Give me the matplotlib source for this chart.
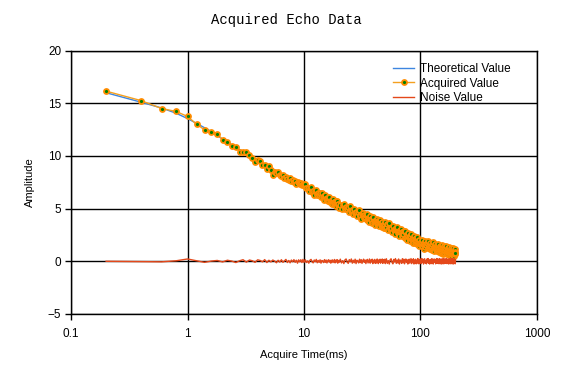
import numpy as np
import matplotlib
matplotlib.use("Agg")
from matplotlib import pyplot as plt
from matplotlib.ticker import NullLocator

# --- echo train time grid (ms) ---
t_early = np.round(np.arange(0.2, 10.01, 0.2), 2)
t_late = np.concatenate([np.arange(10.25, 20.01, 0.25), np.arange(20.5, 50.01, 0.5),
                         np.arange(51, 100.01, 1.0), np.arange(101.25, 200.01, 1.25)])
acq_time = np.concatenate([t_early, t_late])

# --- acquired amplitudes ---
acq_early = [16.15, 15.25, 14.5, 14.22, 13.75, 13.0, 12.48, 12.32, 12.06, 11.56,
             11.34, 10.98, 10.85, 10.35, 10.35, 10.42, 10.08, 9.78, 9.46, 9.66,
             9.5, 9.15, 9.16, 8.78, 9.0, 8.67, 8.22, 8.5, 8.35, 8.45,
             8.2, 8.05, 8.2, 7.95, 8.0, 7.85, 7.7, 7.9, 7.6, 7.7,
             7.5, 7.6, 7.35, 7.55, 7.4, 7.3, 7.45, 7.2, 7.35, 7.25]
acq_10_20 = [7.30, 6.95, 7.00, 6.65, 6.98, 7.07, 6.59, 6.68, 6.34, 6.67,
             6.77, 6.29, 6.49, 6.33, 6.50, 6.07, 6.51, 6.08, 6.18, 5.85,
             6.26, 5.94, 6.01, 5.68, 6.03, 6.13, 5.67, 5.77, 5.45, 5.80,
             5.91, 5.44, 5.66, 5.51, 5.70, 5.27, 5.73, 5.32, 5.42, 5.10]
acq_20_50 = [5.31, 4.92, 5.35, 5.47, 4.92, 5.17, 5.00, 5.20, 4.69, 5.24,
             4.73, 4.85, 4.47, 4.98, 4.59, 4.67, 4.29, 4.71, 4.84, 4.28,
             4.42, 4.05, 4.49, 4.63, 4.09, 4.36, 4.20, 4.42, 3.92, 4.49,
             3.99, 4.13, 3.76, 4.29, 3.91, 4.01, 3.64, 4.08, 4.22, 3.68,
             3.83, 3.46, 3.91, 4.05, 3.52, 3.79, 3.64, 3.86, 3.37, 3.94,
             3.45, 3.59, 3.23, 3.76, 3.39, 3.49, 3.13, 3.57, 3.72, 3.18]
acq_50_100 = [3.27, 3.53, 2.95, 3.61, 3.03, 3.19, 2.76, 3.37, 2.94, 3.05,
              2.62, 3.13, 3.30, 2.66, 2.83, 2.39, 2.91, 3.07, 2.44, 2.75,
              2.57, 2.83, 2.25, 2.91, 2.33, 2.49, 2.06, 2.67, 2.24, 2.35,
              1.92, 2.44, 2.61, 1.98, 2.15, 1.72, 2.24, 2.41, 1.78, 2.10,
              1.92, 2.19, 1.60, 2.27, 1.69, 1.86, 1.43, 2.04, 1.61, 1.73]
acq_100_200 = [1.87, 2.05, 1.44, 1.63, 1.21, 1.75, 1.94, 1.32, 1.66, 1.50,
               1.78, 1.22, 1.91, 1.35, 1.53, 1.12, 1.76, 1.34, 1.48, 1.07,
               1.60, 1.79, 1.18, 1.36, 0.95, 1.49, 1.67, 1.06, 1.40, 1.23,
               1.52, 0.96, 1.64, 1.08, 1.27, 0.85, 1.49, 1.08, 1.21, 0.80,
               1.34, 1.53, 0.92, 1.12, 0.71, 1.25, 1.44, 0.83, 1.17, 1.01,
               1.30, 0.75, 1.44, 0.88, 1.07, 0.66, 1.30, 0.89, 1.03, 0.63,
               1.17, 1.36, 0.75, 0.94, 0.53, 1.07, 1.26, 0.66, 1.00, 0.84,
               1.13, 0.57, 1.26, 0.70, 0.89, 0.49, 1.13, 0.72, 0.86, 0.80]
acq_value = np.array(acq_early + acq_10_20 + acq_20_50 + acq_50_100 + acq_100_200)

# --- theoretical curve (anchor points) ---
theo_time = [0.2, 0.4, 0.6, 0.8, 1.0, 1.5, 2, 3, 4, 5, 7, 10, 15, 20, 30, 50, 70, 100, 150, 200]
theo_value = [16.0, 15.1, 14.55, 14.05, 13.55, 12.5, 11.6, 10.4, 9.6, 8.95, 8.05, 7.15,
              6.1, 5.35, 4.45, 3.35, 2.65, 1.68, 1.15, 0.8]

# --- noise ---
noise_early = [0.0, -0.03, -0.05, 0.05, 0.22, 0.05, -0.1, 0.02, 0.08, -0.06,
               0.1, 0.02, -0.12, 0.05, 0.15, -0.08, 0.12, 0.05, -0.1, 0.14,
               0.08, -0.05, 0.16, -0.12, 0.1, -0.06, 0.12, 0.02, -0.14, 0.1,
               -0.08, 0.15, -0.1, 0.05, 0.18, -0.12, 0.08, -0.15, 0.12, -0.05,
               0.16, -0.1, 0.1, -0.18, 0.14, -0.06, 0.15, -0.12, 0.18, -0.1]
noise_10_20 = [0.15, -0.12, 0.04, -0.18, 0.1, 0.18, -0.06, -0.15, 0.12, -0.04,
               0.18, -0.14, 0.08, -0.1, 0.14, -0.18, 0.08, 0.02, -0.12, 0.16,
               -0.1, 0.12, -0.16, 0.05, 0.15, -0.08, 0.1, -0.18, 0.06, 0.14,
               -0.12, 0.02, 0.17, -0.15, 0.1, -0.06, 0.16, -0.18, 0.08, -0.1]
noise_20_50 = [0.2, -0.16, 0.06, -0.22, 0.14, 0.22, -0.08, -0.2, 0.16, -0.04,
               0.22, -0.18, 0.1, -0.14, 0.2, -0.22, 0.1, 0.02, -0.16, 0.2,
               -0.12, 0.16, -0.2, 0.06, 0.2, -0.1, 0.12, -0.22, 0.08, 0.18,
               -0.16, 0.04, 0.22, -0.18, 0.12, -0.06, 0.2, -0.22, 0.1, -0.12,
               0.18, -0.2, 0.06, -0.16, 0.22, 0.04, -0.22, 0.14, -0.08, 0.2,
               -0.18, 0.12, -0.04, 0.22, -0.2, 0.08, 0.16, -0.14, 0.2, -0.22]
noise_50_100 = [0.24, -0.2, 0.06, -0.26, 0.16, 0.24, -0.1, -0.24, 0.18, -0.06,
                0.26, -0.2, 0.12, -0.16, 0.22, -0.26, 0.12, 0.02, -0.2, 0.24,
                -0.14, 0.2, -0.24, 0.08, 0.22, -0.12, 0.14, -0.26, 0.1, 0.2,
                -0.18, 0.04, 0.26, -0.22, 0.14, -0.06, 0.24, -0.26, 0.12, -0.14,
                0.2, -0.24, 0.08, -0.18, 0.26, 0.04, -0.24, 0.16, -0.1, 0.22]
noise_100_200 = [-0.22, 0.26, -0.08, 0.2, -0.26, 0.14, 0.24, -0.18, 0.06, -0.24,
                 0.22, -0.12, 0.26, -0.2, 0.1, -0.26, 0.18, 0.04, -0.22, 0.24,
                 -0.16, 0.2, -0.26, 0.12, 0.22, -0.1, 0.16, -0.24, 0.08, 0.26,
                 -0.2, 0.06, 0.24, -0.22, 0.14, -0.08, 0.26, -0.24, 0.1, -0.16,
                 0.22, -0.26, 0.08, -0.2, 0.26, 0.02, -0.24, 0.18, -0.12, 0.24,
                 -0.2, 0.14, -0.06, 0.26, -0.22, 0.1, 0.18, -0.16, 0.22, -0.26,
                 0.12, -0.2, 0.24, -0.08, 0.2, -0.24, 0.16, -0.12, 0.26, -0.22,
                 0.06, 0.22, -0.26, 0.14, -0.1, 0.24, -0.2, 0.18, -0.24, 0.1]
noise_value = np.array(noise_early + noise_10_20 + noise_20_50 + noise_50_100 + noise_100_200)

x_ticks = [0.1, 1, 10, 100, 1000]
x_ticklabels = ["0.1", "1", "10", "100", "1000"]
y_ticks = [-5, 0, 5, 10, 15, 20]

plt.rcParams['font.family'] = ['Liberation Sans', 'DejaVu Sans']

fig = plt.figure(figsize=(5.73, 3.72), dpi=100)
ax = fig.add_axes([0.124, 0.156, 0.813, 0.708])

ax.plot(theo_time, theo_value, color='#3D85E0', lw=1.0, label='Theoretical Value', zorder=3)
ax.plot(acq_time, acq_value, color='#F4A020', lw=1.0, marker='o', ms=3.6,
        mfc='#008000', mec='#FF8C00', mew=1.3, label='Acquired Value', zorder=4)
ax.plot(acq_time, noise_value, color='#E4481A', lw=1.0, label='Noise Value', zorder=5)

ax.set_xscale('log')
ax.set_xlim(0.1, 1000)
ax.set_ylim(-5, 20)
ax.set_xticks(x_ticks)
ax.set_xticklabels(x_ticklabels)
ax.xaxis.set_minor_locator(NullLocator())
ax.set_yticks(y_ticks)
ax.tick_params(axis='both', direction='out', length=4, width=1, labelsize=8.5,
               color='black')
ax.tick_params(axis='x', pad=6)
ax.tick_params(axis='y', pad=3)
ax.grid(True, color='black', lw=1)
for s in ax.spines.values():
    s.set_color('black')
    s.set_linewidth(1)

ax.set_xlabel('Acquire Time(ms)', fontsize=8)
ax.set_ylabel('Amplitude', fontsize=8)
ax.xaxis.set_label_coords(0.5, -0.137)
ax.yaxis.set_label_coords(-0.077, 0.5)
fig.text(0.4995, 1 - 20 / 372, 'Acquired Echo Data', ha='center', va='center',
         fontsize=10, family='Liberation Mono')

leg = ax.legend(loc='upper left', bbox_to_anchor=(393 / 573, 1 - 63 / 372),
                bbox_transform=fig.transFigure, frameon=False, fontsize=8.5,
                handlelength=1.8, handletextpad=0.5, labelspacing=0.22,
                borderpad=0, borderaxespad=0)

fig.savefig('out.png', dpi=100)
